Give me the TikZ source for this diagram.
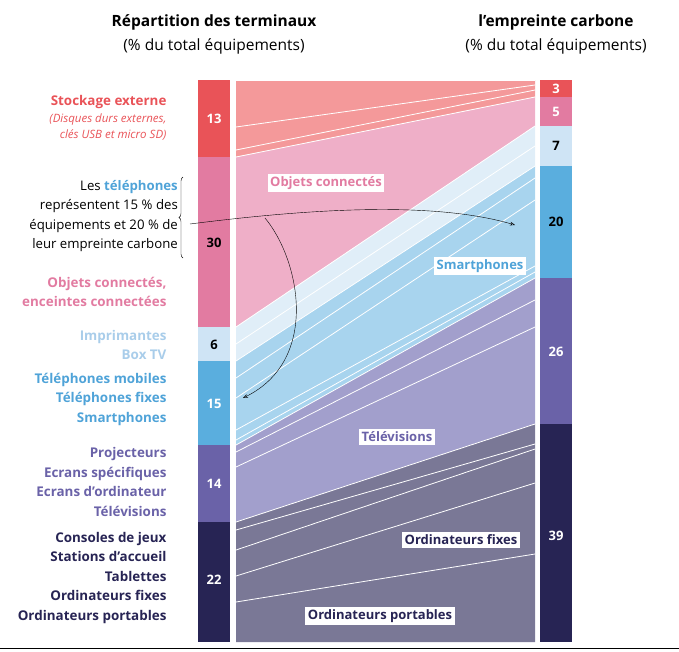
\documentclass[tikz,border=0pt]{standalone}
\usepackage{fontspec}
\setmainfont{Open Sans}
\usetikzlibrary{arrows.meta,decorations.pathreplacing}
\definecolor{stockbar}{HTML}{E95358}
\definecolor{stockflow}{HTML}{F4999A}
\definecolor{objbar}{HTML}{E27BA1}
\definecolor{objflow}{HTML}{EFAFC8}
\definecolor{imprbar}{HTML}{CFE4F5}
\definecolor{imprflow}{HTML}{E0EEF8}
\definecolor{telbar}{HTML}{5AAEDE}
\definecolor{telflow}{HTML}{A8D4EE}
\definecolor{ecrbar}{HTML}{6A62A8}
\definecolor{ecrflow}{HTML}{A29FCC}
\definecolor{ordbar}{HTML}{272454}
\definecolor{ordflow}{HTML}{7A7896}
\definecolor{imprtext}{HTML}{A9CDEA}
\definecolor{teltext}{HTML}{4FA3D8}
\tikzset{
  num/.style={font=\bfseries\fontsize{13}{15}\selectfont, text=white},
  flowlabel/.style={fill=white, font=\bfseries\fontsize{13}{15}\selectfont, inner sep=2.5pt},
  catlabel/.style={anchor=east, align=right, font=\bfseries\fontsize{13.4}{19.5}\selectfont},
  stripe/.style={white, line width=0.8pt},
  title/.style={align=center, font=\fontsize{15.5}{24}\selectfont}
}
\begin{document}
\begin{tikzpicture}[x=1pt,y=-1pt]
\useasboundingbox (0,0) rectangle (679,651);
% bars
\foreach \ya/\yb/\col in {80/157/stockbar,157/327/objbar,327/361/imprbar,361/445/telbar,445/522/ecrbar,522/642/ordbar}
  \fill[\col] (198,\ya) rectangle (230,\yb);
\foreach \ya/\yb/\col in {80/97/stockbar,97/126/objbar,126/166/imprbar,166/278/telbar,278/424/ecrbar,424/642/ordbar}
  \fill[\col] (540,\ya) rectangle (572,\yb);
% flows
\foreach \la/\lb/\ra/\rb/\col in {80/157/80/97/stockflow,157/327/97/126/objflow,327/361/126/166/imprflow,361/445/166/278/telflow,445/522/278/424/ecrflow,522/642/424/642/ordflow}
  \fill[\col] (236,\la) -- (535,\ra) -- (535,\rb) -- (236,\lb) -- cycle;
% stripes
\foreach \l/\r in {80/80,127/85,150/90,157/97,327/126,344/146,361/166,378/178,398/200,430/266,440/272,445/278,452/300,467/327,522/424,530/444,550/449,576/483,602/554}
  \draw[stripe] (236,\l) -- (535,\r);
% bar numbers
\node[num] (n13) at (214,119) {13};
\node[num, text=black] (n30) at (214,243) {30};
\node[num, text=black] (n6) at (214,345) {6};
\node[num] (n15) at (214,404) {15};
\node[num] (n14) at (214,484) {14};
\node[num] (n22) at (214,580) {22};
\node[num] (m3) at (556,89) {3};
\node[num] (m5) at (556,112) {5};
\node[num, text=black] (m7) at (556,146) {7};
\node[num, text=black] (m20) at (556,222) {20};
\node[num] (m26) at (556,352) {26};
\node[num] (m39) at (556,536) {39};
% flow labels
\node[flowlabel, text=objbar] (lobj) at (326,183) {Objets connectés};
\node[flowlabel, text=teltext] (lsmart) at (480,266) {Smartphones};
\node[flowlabel, text=ecrbar] (ltele) at (397,437) {Télévisions};
\node[flowlabel, text=ordbar] (lfixe) at (461,540) {Ordinateurs fixes};
\node[flowlabel, text=ordbar] (lport) at (380,616) {Ordinateurs portables};
% titles
\node[title] (tleft) at (214,34) {\textbf{Répartition des terminaux}\\(\% du total équipements)};
\node[title] (tright) at (556,34) {\textbf{l'empreinte carbone}\\(\% du total équipements)};
% category labels
\node[catlabel, text=stockbar] (cstock) at (170,118) {Stockage externe\\[-3pt]{\mdseries\itshape\fontsize{11.5}{17}\selectfont (Disques durs externes,}\\[-3pt]{\mdseries\itshape\fontsize{11.5}{17}\selectfont clés USB et micro SD)}};
\node[catlabel, text=objbar] (cobj) at (170,292) {Objets connectés,\\enceintes connectées};
\node[catlabel, text=imprtext] (cimpr) at (170,345) {Imprimantes\\Box TV};
\node[catlabel, text=teltext] (ctel) at (170,399) {Téléphones mobiles\\Téléphones fixes\\Smartphones};
\node[catlabel, text=ecrbar] (cecr) at (170,482) {Projecteurs\\Ecrans spécifiques\\Ecrans d'ordinateur\\Télévisions};
\node[catlabel, text=ordbar] (cord) at (170,578) {Consoles de jeux\\Stations d'accueil\\Tablettes\\Ordinateurs fixes\\Ordinateurs portables};
% callout
\node[anchor=east, align=right, font=\fontsize{13.2}{19.5}\selectfont, inner sep=0pt] (note) at (178,216) {Les \textcolor{teltext}{\bfseries téléphones}\\représentent 15 \% des\\équipements et 20 \% de\\leur empreinte carbone};
\draw[decorate, decoration={brace, amplitude=4pt}] (183,258) -- (183,177) coordinate[midway] (bmid);
\coordinate (tipA) at (515,225);
\coordinate (tipB) at (243,398);
\coordinate (fork) at (265,218);
\draw[-{Stealth[length=5pt,open]}] (190,224) .. controls (300,210) and (430,200) .. (tipA);
\draw[-{Stealth[length=5pt,open]}] (fork) .. controls (300,260) and (320,360) .. (tipB);
\draw[line width=1pt] (0,648) -- (679,648);
\end{tikzpicture}
\end{document}
